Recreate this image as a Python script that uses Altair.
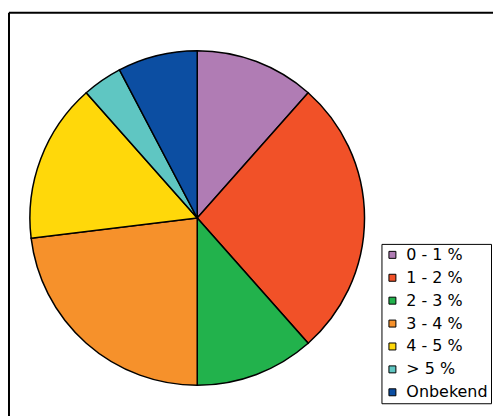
import altair as alt
import pandas as pd

categories = ["0 - 1 %", "1 - 2 %", "2 - 3 %", "3 - 4 %", "4 - 5 %", "> 5 %", "Onbekend"]
counts = [3, 7, 3, 6, 4, 1, 2]
colors = ["#B07CB4", "#F15128", "#22B24C", "#F6912B", "#FFD80A", "#5FC6C2", "#0C4EA2"]

df = pd.DataFrame({"cat": categories, "n": counts, "ord": list(range(len(categories)))})
frame_df = pd.DataFrame({"k": [0]})

W = 486
H = 420

pie = alt.Chart(df).mark_arc(
    outerRadius=168, stroke="black", strokeWidth=1.5
).encode(
    theta=alt.Theta("n:Q", stack=True),
    order=alt.Order("ord:Q"),
    color=alt.Color(
        "cat:N",
        sort=categories,
        scale=alt.Scale(domain=categories, range=colors),
        legend=alt.Legend(
            title=None,
            orient="none",
            legendX=374,
            legendY=232,
            symbolType="square",
            symbolSize=49,
            symbolStrokeColor="black",
            symbolStrokeWidth=1,
            labelFont="DejaVu Sans",
            labelFontSize=16,
            labelColor="black",
            labelOffset=6,
            rowPadding=7,
            padding=3,
            strokeColor="black",
            fillColor="white",
            cornerRadius=0,
        ),
    ),
    x=alt.value(189),
    y=alt.value(206),
)

top_line = alt.Chart(frame_df).mark_rule(color="black", strokeWidth=2).encode(
    x=alt.value(0), x2=alt.value(W), y=alt.value(0)
)
left_line = alt.Chart(frame_df).mark_rule(color="black", strokeWidth=2).encode(
    x=alt.value(0), y=alt.value(0), y2=alt.value(H)
)

chart = alt.layer(top_line, left_line, pie).properties(
    width=W,
    height=H,
    padding={"left": 0, "top": 3, "right": 0, "bottom": 0},
).configure_view(
    stroke=None, strokeWidth=0
)

chart.save("out.html", embed_options={"renderer": "svg", "actions": False})
